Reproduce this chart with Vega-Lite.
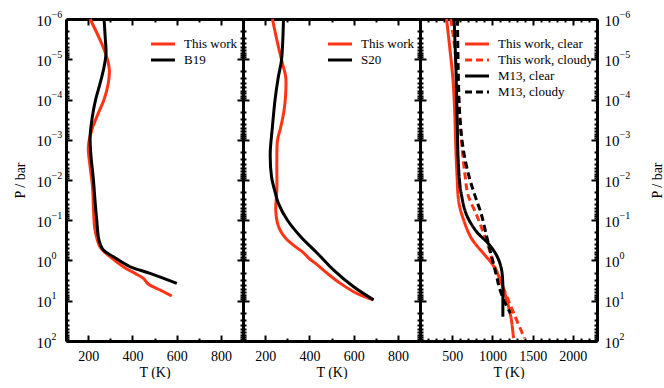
{
  "$schema": "https://vega.github.io/schema/vega-lite/v6.json",
  "padding": {"left": 13, "top": 9, "right": 0, "bottom": 0},
  "spacing": 0,
  "bounds": "flush",
  "datasets": {
    "p1": [
      {"series": "This work", "T": 209, "P": 1e-6},
      {"series": "This work", "T": 254, "P": 3.3e-6},
      {"series": "This work", "T": 273, "P": 5.9e-6},
      {"series": "This work", "T": 287, "P": 1e-5},
      {"series": "This work", "T": 296, "P": 1.86e-5},
      {"series": "This work", "T": 291, "P": 4e-5},
      {"series": "This work", "T": 272, "P": 1e-4},
      {"series": "This work", "T": 239, "P": 2.7e-4},
      {"series": "This work", "T": 216, "P": 5.8e-4},
      {"series": "This work", "T": 201, "P": 1.5e-3},
      {"series": "This work", "T": 209, "P": 4.7e-3},
      {"series": "This work", "T": 220, "P": 0.015},
      {"series": "This work", "T": 224, "P": 0.05},
      {"series": "This work", "T": 231, "P": 0.17},
      {"series": "This work", "T": 254, "P": 0.46},
      {"series": "This work", "T": 299, "P": 0.805},
      {"series": "This work", "T": 359, "P": 1.43},
      {"series": "This work", "T": 412, "P": 2.09},
      {"series": "This work", "T": 450, "P": 2.78},
      {"series": "This work", "T": 472, "P": 3.84},
      {"series": "This work", "T": 525, "P": 5.41},
      {"series": "This work", "T": 578, "P": 7.62},
      {"series": "B19", "T": 272, "P": 1e-6},
      {"series": "B19", "T": 278, "P": 3.3e-6},
      {"series": "B19", "T": 281, "P": 7.1e-6},
      {"series": "B19", "T": 272, "P": 1.55e-5},
      {"series": "B19", "T": 254, "P": 4e-5},
      {"series": "B19", "T": 234, "P": 1e-4},
      {"series": "B19", "T": 219, "P": 2.7e-4},
      {"series": "B19", "T": 209, "P": 8.3e-4},
      {"series": "B19", "T": 212, "P": 2.2e-3},
      {"series": "B19", "T": 224, "P": 0.01},
      {"series": "B19", "T": 231, "P": 0.0316},
      {"series": "B19", "T": 239, "P": 0.1},
      {"series": "B19", "T": 249, "P": 0.31},
      {"series": "B19", "T": 269, "P": 0.548},
      {"series": "B19", "T": 314, "P": 0.805},
      {"series": "B19", "T": 390, "P": 1.43},
      {"series": "B19", "T": 480, "P": 2.08},
      {"series": "B19", "T": 601, "P": 3.69}
    ],
    "p2": [
      {"series": "This work", "T": 233, "P": 1e-6},
      {"series": "This work", "T": 253, "P": 3.3e-6},
      {"series": "This work", "T": 278, "P": 1.26e-5},
      {"series": "This work", "T": 293, "P": 2.7e-5},
      {"series": "This work", "T": 293, "P": 7.1e-5},
      {"series": "This work", "T": 286, "P": 1.8e-4},
      {"series": "This work", "T": 271, "P": 4.8e-4},
      {"series": "This work", "T": 256, "P": 1.02e-3},
      {"series": "This work", "T": 253, "P": 3.2e-3},
      {"series": "This work", "T": 253, "P": 0.0178},
      {"series": "This work", "T": 248, "P": 0.056},
      {"series": "This work", "T": 256, "P": 0.12},
      {"series": "This work", "T": 271, "P": 0.19},
      {"series": "This work", "T": 293, "P": 0.28},
      {"series": "This work", "T": 338, "P": 0.46},
      {"series": "This work", "T": 368, "P": 0.6},
      {"series": "This work", "T": 398, "P": 0.88},
      {"series": "This work", "T": 436, "P": 1.29},
      {"series": "This work", "T": 481, "P": 2.09},
      {"series": "This work", "T": 540, "P": 3.7},
      {"series": "This work", "T": 615, "P": 6.6},
      {"series": "This work", "T": 690, "P": 9.5},
      {"series": "S20", "T": 283, "P": 1e-6},
      {"series": "S20", "T": 274, "P": 1.05e-5},
      {"series": "S20", "T": 260, "P": 2.7e-5},
      {"series": "S20", "T": 245, "P": 1e-4},
      {"series": "S20", "T": 233, "P": 4.8e-4},
      {"series": "S20", "T": 223, "P": 2.2e-3},
      {"series": "S20", "T": 229, "P": 8.3e-3},
      {"series": "S20", "T": 245, "P": 0.02},
      {"series": "S20", "T": 260, "P": 0.038},
      {"series": "S20", "T": 301, "P": 0.1},
      {"series": "S20", "T": 361, "P": 0.257},
      {"series": "S20", "T": 436, "P": 0.66},
      {"series": "S20", "T": 510, "P": 1.74},
      {"series": "S20", "T": 600, "P": 4.5},
      {"series": "S20", "T": 690, "P": 9.5}
    ],
    "p3": [
      {"series": "This work, clear", "T": 430, "P": 1e-6},
      {"series": "This work, clear", "T": 471, "P": 5.4e-6},
      {"series": "This work, clear", "T": 512, "P": 3.6e-5},
      {"series": "This work, clear", "T": 533, "P": 2.45e-4},
      {"series": "This work, clear", "T": 545, "P": 1.58e-3},
      {"series": "This work, clear", "T": 560, "P": 0.0076},
      {"series": "This work, clear", "T": 582, "P": 0.0347},
      {"series": "This work, clear", "T": 635, "P": 0.089},
      {"series": "This work, clear", "T": 739, "P": 0.28},
      {"series": "This work, clear", "T": 903, "P": 0.72},
      {"series": "This work, clear", "T": 1006, "P": 1.29},
      {"series": "This work, clear", "T": 1089, "P": 2.75},
      {"series": "This work, clear", "T": 1172, "P": 8.7},
      {"series": "This work, clear", "T": 1233, "P": 27.5},
      {"series": "This work, clear", "T": 1262, "P": 85},
      {"series": "This work, cloudy", "T": 483, "P": 1e-6},
      {"series": "This work, cloudy", "T": 533, "P": 5.4e-6},
      {"series": "This work, cloudy", "T": 566, "P": 3.6e-5},
      {"series": "This work, cloudy", "T": 594, "P": 2.45e-4},
      {"series": "This work, cloudy", "T": 623, "P": 1.58e-3},
      {"series": "This work, cloudy", "T": 660, "P": 0.0076},
      {"series": "This work, cloudy", "T": 697, "P": 0.0234},
      {"series": "This work, cloudy", "T": 801, "P": 0.072},
      {"series": "This work, cloudy", "T": 883, "P": 0.19},
      {"series": "This work, cloudy", "T": 944, "P": 0.41},
      {"series": "This work, cloudy", "T": 1006, "P": 1.07},
      {"series": "This work, cloudy", "T": 1089, "P": 2.75},
      {"series": "This work, cloudy", "T": 1172, "P": 7.2},
      {"series": "This work, cloudy", "T": 1274, "P": 22.4},
      {"series": "This work, cloudy", "T": 1398, "P": 85},
      {"series": "M13, clear", "T": 524, "P": 1e-6},
      {"series": "M13, clear", "T": 545, "P": 1.4e-5},
      {"series": "M13, clear", "T": 561, "P": 2.45e-4},
      {"series": "M13, clear", "T": 574, "P": 3e-3},
      {"series": "M13, clear", "T": 594, "P": 0.012},
      {"series": "M13, clear", "T": 615, "P": 0.0234},
      {"series": "M13, clear", "T": 677, "P": 0.072},
      {"series": "M13, clear", "T": 801, "P": 0.19},
      {"series": "M13, clear", "T": 944, "P": 0.37},
      {"series": "M13, clear", "T": 1048, "P": 0.72},
      {"series": "M13, clear", "T": 1110, "P": 1.55},
      {"series": "M13, clear", "T": 1130, "P": 4.07},
      {"series": "M13, clear", "T": 1130, "P": 10.5},
      {"series": "M13, clear", "T": 1130, "P": 25.1},
      {"series": "M13, cloudy", "T": 566, "P": 1e-6},
      {"series": "M13, cloudy", "T": 574, "P": 1.4e-5},
      {"series": "M13, cloudy", "T": 594, "P": 2.45e-4},
      {"series": "M13, cloudy", "T": 635, "P": 1.58e-3},
      {"series": "M13, cloudy", "T": 705, "P": 0.0076},
      {"series": "M13, cloudy", "T": 780, "P": 0.0234},
      {"series": "M13, cloudy", "T": 863, "P": 0.072},
      {"series": "M13, cloudy", "T": 924, "P": 0.23},
      {"series": "M13, cloudy", "T": 965, "P": 0.5},
      {"series": "M13, cloudy", "T": 1006, "P": 1.07},
      {"series": "M13, cloudy", "T": 1048, "P": 2.29},
      {"series": "M13, cloudy", "T": 1089, "P": 4.9},
      {"series": "M13, cloudy", "T": 1151, "P": 10.5},
      {"series": "M13, cloudy", "T": 1225, "P": 20.4}
    ]
  },
  "resolve": {
    "scale": {"x": "independent", "y": "independent", "color": "independent", "strokeDash": "independent"},
    "legend": {"color": "independent", "strokeDash": "independent"}
  },
  "hconcat": [
    {
      "width": 177, "height": 322,
      "data": {"name": "p1"},
      "resolve": {"axis": {"x": "independent", "y": "independent"}},
      "layer": [
        {
          "mark": {"type": "line", "strokeWidth": 3, "interpolate": "catmull-rom"},
          "encoding": {
            "x": {"field": "T", "type": "quantitative", "scale": {"domain": [100, 900], "nice": false, "zero": false},
              "axis": {"orient": "bottom", "values": [200, 400, 600, 800], "format": "d", "tickSize": -6, "labelPadding": 14, "title": "T (K)", "titlePadding": 2}},
            "y": {"field": "P", "type": "quantitative", "scale": {"type": "log", "domain": [1e-6, 100], "reverse": true, "nice": false},
              "axis": {"orient": "left", "values": [1e-6, 1e-5, 1e-4, 0.001, 0.01, 0.1, 1, 10, 100], "tickSize": -6, "labelPadding": 21,
                "labelExpr": "'10'", "labelFontSize": 15, "labelOffset": 1,
                "title": "P / bar", "titlePadding": 9}},
            "color": {"field": "series", "type": "nominal", "scale": {"domain": ["This work", "B19"], "range": ["#ff3414", "#000000"]},
              "legend": {"orient": "none", "legendX": 88, "legendY": 16, "title": null}},
            "order": {"field": "P", "type": "quantitative"}
          }
        },
        {
          "mark": {"type": "line", "strokeOpacity": 0},
          "encoding": {
            "x": {"field": "T", "type": "quantitative", "scale": {"domain": [100, 900], "nice": false, "zero": false},
              "axis": {"orient": "bottom", "values": [300, 500, 700], "tickSize": -3, "domain": false, "labels": false, "title": null}},
            "y": {"field": "P", "type": "quantitative", "scale": {"type": "log", "domain": [1e-6, 100], "reverse": true, "nice": false},
              "axis": {"orient": "left", "values": [2e-6,3e-6,4e-6,5e-6,6e-6,7e-6,8e-6,9e-6,2e-5,3e-5,4e-5,5e-5,6e-5,7e-5,8e-5,9e-5,2e-4,3e-4,4e-4,5e-4,6e-4,7e-4,8e-4,9e-4,0.002,0.003,0.004,0.005,0.006,0.007,0.008,0.009,0.02,0.03,0.04,0.05,0.06,0.07,0.08,0.09,0.2,0.3,0.4,0.5,0.6,0.7,0.8,0.9,2,3,4,5,6,7,8,9,20,30,40,50,60,70,80,90], "tickSize": -3, "domain": false, "labels": false, "title": null}},
            "detail": {"field": "series"}
          }
        },
        {
          "mark": {"type": "line", "strokeOpacity": 0},
          "encoding": {
            "x": {"field": "T", "type": "quantitative", "scale": {"domain": [100, 900], "nice": false, "zero": false},
              "axis": {"orient": "top", "values": [200, 400, 600, 800], "tickSize": -6, "labels": false, "title": null}},
            "y": {"field": "P", "type": "quantitative", "scale": {"type": "log", "domain": [1e-6, 100], "reverse": true, "nice": false},
              "axis": {"orient": "right", "values": [1e-6, 1e-5, 1e-4, 0.001, 0.01, 0.1, 1, 10, 100], "tickSize": -6, "labels": false, "title": null}},
            "detail": {"field": "series"}
          }
        },
        {
          "mark": {"type": "line", "strokeOpacity": 0},
          "encoding": {
            "x": {"field": "T", "type": "quantitative", "scale": {"domain": [100, 900], "nice": false, "zero": false},
              "axis": {"orient": "top", "values": [300, 500, 700], "tickSize": -3, "domain": false, "labels": false, "title": null}},
            "y": {"field": "P", "type": "quantitative", "scale": {"type": "log", "domain": [1e-6, 100], "reverse": true, "nice": false},
              "axis": {"orient": "right", "values": [2e-6,3e-6,4e-6,5e-6,6e-6,7e-6,8e-6,9e-6,2e-5,3e-5,4e-5,5e-5,6e-5,7e-5,8e-5,9e-5,2e-4,3e-4,4e-4,5e-4,6e-4,7e-4,8e-4,9e-4,0.002,0.003,0.004,0.005,0.006,0.007,0.008,0.009,0.02,0.03,0.04,0.05,0.06,0.07,0.08,0.09,0.2,0.3,0.4,0.5,0.6,0.7,0.8,0.9,2,3,4,5,6,7,8,9,20,30,40,50,60,70,80,90], "tickSize": -3, "domain": false, "labels": false, "title": null}},
            "detail": {"field": "series"}
          }
        },
        {
          "mark": {"type": "line", "strokeOpacity": 0},
          "encoding": {
            "x": {"field": "T", "type": "quantitative", "scale": {"domain": [100, 900], "nice": false, "zero": false}, "axis": null},
            "y": {"field": "P", "type": "quantitative", "scale": {"type": "log", "domain": [1e-6, 100], "reverse": true, "nice": false},
              "axis": {"orient": "left", "values": [1e-6, 1e-5, 1e-4, 0.001, 0.01, 0.1, 1, 10, 100], "ticks": false, "tickSize": 0, "domain": false,
                "labelExpr": "(round(log(datum.value)/LN10) < 0 ? '−' : '') + abs(round(log(datum.value)/LN10))",
                "labelAlign": "left", "labelPadding": 15, "labelFontSize": 10, "labelOffset": -5, "title": null}},
            "detail": {"field": "series"}
          }
        }
      ]
    },
    {
      "width": 177, "height": 322,
      "data": {"name": "p2"},
      "resolve": {"axis": {"x": "independent", "y": "independent"}},
      "layer": [
        {
          "mark": {"type": "line", "strokeWidth": 3, "interpolate": "catmull-rom"},
          "encoding": {
            "x": {"field": "T", "type": "quantitative", "scale": {"domain": [100, 900], "nice": false, "zero": false},
              "axis": {"orient": "bottom", "values": [200, 400, 600, 800], "format": "d", "tickSize": -6, "labelPadding": 14, "title": "T (K)", "titlePadding": 2}},
            "y": {"field": "P", "type": "quantitative", "scale": {"type": "log", "domain": [1e-6, 100], "reverse": true, "nice": false},
              "axis": {"orient": "left", "values": [1e-6, 1e-5, 1e-4, 0.001, 0.01, 0.1, 1, 10, 100], "tickSize": -6, "labels": false, "title": null}},
            "color": {"field": "series", "type": "nominal", "scale": {"domain": ["This work", "S20"], "range": ["#ff3414", "#000000"]},
              "legend": {"orient": "none", "legendX": 88, "legendY": 16, "title": null}},
            "order": {"field": "P", "type": "quantitative"}
          }
        },
        {
          "mark": {"type": "line", "strokeOpacity": 0},
          "encoding": {
            "x": {"field": "T", "type": "quantitative", "scale": {"domain": [100, 900], "nice": false, "zero": false},
              "axis": {"orient": "bottom", "values": [300, 500, 700], "tickSize": -3, "domain": false, "labels": false, "title": null}},
            "y": {"field": "P", "type": "quantitative", "scale": {"type": "log", "domain": [1e-6, 100], "reverse": true, "nice": false},
              "axis": {"orient": "left", "values": [2e-6,3e-6,4e-6,5e-6,6e-6,7e-6,8e-6,9e-6,2e-5,3e-5,4e-5,5e-5,6e-5,7e-5,8e-5,9e-5,2e-4,3e-4,4e-4,5e-4,6e-4,7e-4,8e-4,9e-4,0.002,0.003,0.004,0.005,0.006,0.007,0.008,0.009,0.02,0.03,0.04,0.05,0.06,0.07,0.08,0.09,0.2,0.3,0.4,0.5,0.6,0.7,0.8,0.9,2,3,4,5,6,7,8,9,20,30,40,50,60,70,80,90], "tickSize": -3, "domain": false, "labels": false, "title": null}},
            "detail": {"field": "series"}
          }
        },
        {
          "mark": {"type": "line", "strokeOpacity": 0},
          "encoding": {
            "x": {"field": "T", "type": "quantitative", "scale": {"domain": [100, 900], "nice": false, "zero": false},
              "axis": {"orient": "top", "values": [200, 400, 600, 800], "tickSize": -6, "labels": false, "title": null}},
            "y": {"field": "P", "type": "quantitative", "scale": {"type": "log", "domain": [1e-6, 100], "reverse": true, "nice": false},
              "axis": {"orient": "right", "values": [1e-6, 1e-5, 1e-4, 0.001, 0.01, 0.1, 1, 10, 100], "tickSize": -6, "labels": false, "title": null}},
            "detail": {"field": "series"}
          }
        },
        {
          "mark": {"type": "line", "strokeOpacity": 0},
          "encoding": {
            "x": {"field": "T", "type": "quantitative", "scale": {"domain": [100, 900], "nice": false, "zero": false},
              "axis": {"orient": "top", "values": [300, 500, 700], "tickSize": -3, "domain": false, "labels": false, "title": null}},
            "y": {"field": "P", "type": "quantitative", "scale": {"type": "log", "domain": [1e-6, 100], "reverse": true, "nice": false},
              "axis": {"orient": "right", "values": [2e-6,3e-6,4e-6,5e-6,6e-6,7e-6,8e-6,9e-6,2e-5,3e-5,4e-5,5e-5,6e-5,7e-5,8e-5,9e-5,2e-4,3e-4,4e-4,5e-4,6e-4,7e-4,8e-4,9e-4,0.002,0.003,0.004,0.005,0.006,0.007,0.008,0.009,0.02,0.03,0.04,0.05,0.06,0.07,0.08,0.09,0.2,0.3,0.4,0.5,0.6,0.7,0.8,0.9,2,3,4,5,6,7,8,9,20,30,40,50,60,70,80,90], "tickSize": -3, "domain": false, "labels": false, "title": null}},
            "detail": {"field": "series"}
          }
        }
      ]
    },
    {
      "width": 177, "height": 322,
      "data": {"name": "p3"},
      "resolve": {"axis": {"x": "independent", "y": "independent"}},
      "layer": [
        {
          "mark": {"type": "line", "strokeWidth": 3, "interpolate": "catmull-rom"},
          "encoding": {
            "x": {"field": "T", "type": "quantitative", "scale": {"domain": [100, 2300], "nice": false, "zero": false},
              "axis": {"orient": "bottom", "values": [500, 1000, 1500, 2000], "format": "d", "tickSize": -6, "labelPadding": 14, "title": "T (K)", "titlePadding": 2}},
            "y": {"field": "P", "type": "quantitative", "scale": {"type": "log", "domain": [1e-6, 100], "reverse": true, "nice": false},
              "axis": {"orient": "left", "values": [1e-6, 1e-5, 1e-4, 0.001, 0.01, 0.1, 1, 10, 100], "tickSize": -6, "labels": false, "title": null}},
            "color": {"field": "series", "type": "nominal", "scale": {"domain": ["This work, clear", "This work, cloudy", "M13, clear", "M13, cloudy"], "range": ["#ff3414", "#ff3414", "#000000", "#000000"]},
              "legend": {"orient": "none", "legendX": 48, "legendY": 16, "title": null}},
            "strokeDash": {"field": "series", "type": "nominal", "scale": {"domain": ["This work, clear", "This work, cloudy", "M13, clear", "M13, cloudy"], "range": [[1, 0], [7, 4], [1, 0], [7, 4]]},
              "legend": {"orient": "none", "legendX": 48, "legendY": 16, "title": null}},
            "order": {"field": "P", "type": "quantitative"}
          }
        },
        {
          "mark": {"type": "line", "strokeOpacity": 0},
          "encoding": {
            "x": {"field": "T", "type": "quantitative", "scale": {"domain": [100, 2300], "nice": false, "zero": false},
              "axis": {"orient": "bottom", "values": [200,300,400,600,700,800,900,1100,1200,1300,1400,1600,1700,1800,1900,2100,2200], "tickSize": -3, "domain": false, "labels": false, "title": null}},
            "y": {"field": "P", "type": "quantitative", "scale": {"type": "log", "domain": [1e-6, 100], "reverse": true, "nice": false},
              "axis": {"orient": "left", "values": [2e-6,3e-6,4e-6,5e-6,6e-6,7e-6,8e-6,9e-6,2e-5,3e-5,4e-5,5e-5,6e-5,7e-5,8e-5,9e-5,2e-4,3e-4,4e-4,5e-4,6e-4,7e-4,8e-4,9e-4,0.002,0.003,0.004,0.005,0.006,0.007,0.008,0.009,0.02,0.03,0.04,0.05,0.06,0.07,0.08,0.09,0.2,0.3,0.4,0.5,0.6,0.7,0.8,0.9,2,3,4,5,6,7,8,9,20,30,40,50,60,70,80,90], "tickSize": -3, "domain": false, "labels": false, "title": null}},
            "detail": {"field": "series"}
          }
        },
        {
          "mark": {"type": "line", "strokeOpacity": 0},
          "encoding": {
            "x": {"field": "T", "type": "quantitative", "scale": {"domain": [100, 2300], "nice": false, "zero": false},
              "axis": {"orient": "top", "values": [500, 1000, 1500, 2000], "tickSize": -6, "labels": false, "title": null}},
            "y": {"field": "P", "type": "quantitative", "scale": {"type": "log", "domain": [1e-6, 100], "reverse": true, "nice": false},
              "axis": {"orient": "right", "values": [1e-6, 1e-5, 1e-4, 0.001, 0.01, 0.1, 1, 10, 100], "tickSize": -6, "labelPadding": 13,
                "labelExpr": "'10'", "labelFontSize": 15, "labelOffset": 1, "labelAlign": "left",
                "title": "P / bar", "titleAngle": 270, "titlePadding": 45}},
            "detail": {"field": "series"}
          }
        },
        {
          "mark": {"type": "line", "strokeOpacity": 0},
          "encoding": {
            "x": {"field": "T", "type": "quantitative", "scale": {"domain": [100, 2300], "nice": false, "zero": false},
              "axis": {"orient": "top", "values": [200,300,400,600,700,800,900,1100,1200,1300,1400,1600,1700,1800,1900,2100,2200], "tickSize": -3, "domain": false, "labels": false, "title": null}},
            "y": {"field": "P", "type": "quantitative", "scale": {"type": "log", "domain": [1e-6, 100], "reverse": true, "nice": false},
              "axis": {"orient": "right", "values": [2e-6,3e-6,4e-6,5e-6,6e-6,7e-6,8e-6,9e-6,2e-5,3e-5,4e-5,5e-5,6e-5,7e-5,8e-5,9e-5,2e-4,3e-4,4e-4,5e-4,6e-4,7e-4,8e-4,9e-4,0.002,0.003,0.004,0.005,0.006,0.007,0.008,0.009,0.02,0.03,0.04,0.05,0.06,0.07,0.08,0.09,0.2,0.3,0.4,0.5,0.6,0.7,0.8,0.9,2,3,4,5,6,7,8,9,20,30,40,50,60,70,80,90], "tickSize": -3, "domain": false, "labels": false, "title": null}},
            "detail": {"field": "series"}
          }
        },
        {
          "mark": {"type": "line", "strokeOpacity": 0},
          "encoding": {
            "x": {"field": "T", "type": "quantitative", "scale": {"domain": [100, 2300], "nice": false, "zero": false}, "axis": null},
            "y": {"field": "P", "type": "quantitative", "scale": {"type": "log", "domain": [1e-6, 100], "reverse": true, "nice": false},
              "axis": {"orient": "right", "values": [1e-6, 1e-5, 1e-4, 0.001, 0.01, 0.1, 1, 10, 100], "ticks": false, "tickSize": 0, "domain": false,
                "labelExpr": "(round(log(datum.value)/LN10) < 0 ? '−' : '') + abs(round(log(datum.value)/LN10))",
                "labelAlign": "left", "labelPadding": 22, "labelFontSize": 10, "labelOffset": -5, "title": null}},
            "detail": {"field": "series"}
          }
        }
      ]
    }
  ],
  "config": {
    "view": {"stroke": null},
    "font": "Liberation Serif",
    "axis": {
      "grid": false, "labelFont": "Liberation Serif", "titleFont": "Liberation Serif",
      "labelColor": "#000", "titleColor": "#000", "tickColor": "#000", "domainColor": "#000",
      "titleFontWeight": "normal", "labelFontSize": 14, "titleFontSize": 14,
      "tickWidth": 2, "domainWidth": 3, "labelOverlap": false, "labelFlush": false, "labelBound": false
    },
    "legend": {
      "labelFont": "Liberation Serif", "labelFontSize": 13, "labelColor": "#000",
      "symbolType": "M-1.6,0H1.6", "symbolStrokeWidth": 3, "symbolSize": 225, "labelOffset": 12,
      "rowPadding": -1, "padding": 0
    }
  }
}
